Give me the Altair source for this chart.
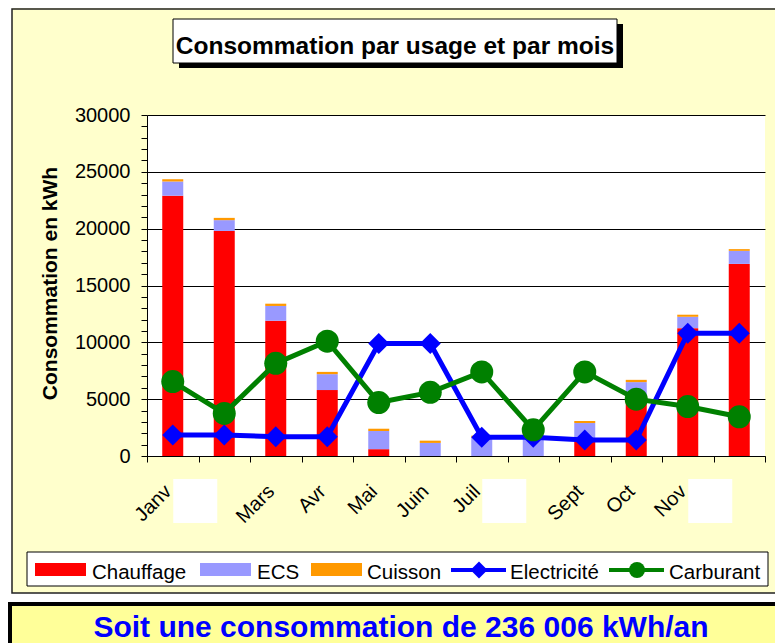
import json
import altair as alt
import pandas as pd

# ---------------- data ----------------
mois = ["Janv", "Févr", "Mars", "Avr", "Mai", "Juin", "Juil", "Août", "Sept", "Oct", "Nov", "Déc"]
usages = ["Chauffage", "ECS", "Cuisson"]
couleurs_usages = ["#FF0000", "#9999FF", "#FF9900"]
chauffage = [22900, 19800, 11900, 5800, 600, 0, 0, 0, 1400, 5350, 11250, 16900]
ecs = [1250, 950, 1300, 1400, 1600, 1150, 1600, 1900, 1500, 1150, 1000, 1150]
cuisson = [200, 200, 200, 200, 200, 200, 190, 200, 180, 200, 180, 150]
electricite = [1850, 1850, 1700, 1700, 9900, 9900, 1650, 1650, 1400, 1400, 10800, 10800]
carburant = [6550, 3750, 8150, 10100, 4700, 5600, 7400, 2300, 7400, 5000, 4350, 3450]
mois_masques = ["Févr", "Août", "Déc"]
y_major = [0, 5000, 10000, 15000, 20000, 25000, 30000]
y_minor = list(range(0, 30001, 1000))
titre = "Consommation par usage et par mois"
titre_axe = "Consommation en kWh"
bandeau = "Soit une consommation de 236 006 kWh/an"
legende = ["Chauffage", "ECS", "Cuisson", "Electricité", "Carburant"]

FONT = "Liberation Sans"
W, H = 618, 341

# ---------------- tables ----------------
rows = []
for i, (u, vals) in enumerate(zip(usages, [chauffage, ecs, cuisson])):
    for m, v in zip(mois, vals):
        rows.append({"mois": m, "usage": u, "valeur": v, "ordre": i})
df_bars = pd.DataFrame(rows)
df_elec = pd.DataFrame({"mois": mois, "valeur": electricite})
df_carb = pd.DataFrame({"mois": mois, "valeur": carburant})
df_mask = pd.DataFrame({"mois": mois_masques, "valeur": [0] * len(mois_masques)})
dummy = pd.DataFrame({"a": [0]})

# ---------------- encodings ----------------
x_axis = alt.Axis(
    title=None, labelAngle=-45, labelAlign="right", labelBaseline="middle",
    labelPadding=26, labelOffset=-5, labelFont=FONT, labelFontSize=20,
    labelColor="black", tickBand="extent", tickSize=6, tickColor="black",
    domainColor="black", domainWidth=1, grid=False, labelOverlap=False,
    labelExpr="indexof(" + json.dumps(mois_masques) + ", datum.value) >= 0 ? '' : datum.label",
)
x_enc = alt.X("mois:N", sort=mois,
              scale=alt.Scale(domain=mois, paddingInner=0, paddingOuter=0),
              axis=x_axis)

y_axis = alt.Axis(
    values=y_minor, format="d",
    labelExpr="datum.value % 5000 === 0 ? datum.label : ''",
    grid=True, gridColor="black", gridWidth=1,
    gridOpacity={"condition": {"test": "datum.value % 5000 === 0", "value": 1}, "value": 0},
    tickSize=6, tickColor="black", domainColor="black", domainWidth=1,
    labelFont=FONT, labelFontSize=20, labelColor="black", labelPadding=11,
    labelOverlap=False,
    title=titre_axe, titleFont=FONT, titleFontSize=21, titleFontWeight="bold",
    titleColor="black", titleX=-97, titleY=168, titleAngle=270,
    titleBaseline="middle", titleAlign="center",
)
y_enc = alt.Y("valeur:Q", stack="zero",
              scale=alt.Scale(domain=[0, 30000], nice=False, zero=True),
              axis=y_axis)

# ---------------- data layers ----------------
bars = alt.Chart(df_bars).mark_bar(size=21).encode(
    x=x_enc, y=y_enc,
    color=alt.Color("usage:N", scale=alt.Scale(domain=usages, range=couleurs_usages), legend=None),
    order=alt.Order("ordre:Q", sort="ascending"),
)

y_line = alt.Y("valeur:Q", scale=alt.Scale(domain=[0, 30000], nice=False, zero=True), axis=y_axis)

elec_line = alt.Chart(df_elec).mark_line(color="#0000FF", strokeWidth=5).encode(x=x_enc, y=y_line)
elec_pts = alt.Chart(df_elec).mark_point(shape="diamond", filled=True, size=441,
                                         color="#0000FF", opacity=1).encode(x=x_enc, y=y_line)
carb_line = alt.Chart(df_carb).mark_line(color="#008000", strokeWidth=5).encode(x=x_enc, y=y_line)
carb_pts = alt.Chart(df_carb).mark_point(shape="circle", filled=True, size=529,
                                         color="#008000", opacity=1).encode(x=x_enc, y=y_line)

masks = alt.Chart(df_mask).mark_bar(size=44, xOffset=-29, color="white").encode(
    x=x_enc, y=alt.value(364), y2=alt.value(408))


# ---------------- decoration helpers ----------------
def rect(x1, x2, y1, y2, **kw):
    return alt.Chart(dummy).mark_rect(**kw).encode(
        x=alt.value(x1), x2=alt.value(x2), y=alt.value(y1), y2=alt.value(y2))


def text(x, y, s, **kw):
    return alt.Chart(dummy).mark_text(font=FONT, **kw).encode(
        x=alt.value(x), y=alt.value(y), text=alt.value(s))


deco = []
deco.append(rect(-139, -135, -107, 480, color="white"))
deco.append(rect(-139, 700, 478, 530, color="white"))
deco.append(rect(-135, 700, -106, 478, fill="transparent", stroke="#222", strokeWidth=1.5))
deco.append(rect(32, 476, -91, -47, color="black"))
deco.append(rect(26, 470, -96, -52, fill="white", stroke="black", strokeWidth=1))
deco.append(text(248, -61, titre, fontSize=24.5, fontWeight="bold", color="black",
                 align="center", baseline="alphabetic"))
deco.append(rect(-120, 621, 437, 471, fill="white", stroke="black", strokeWidth=1))
sw_x = [-112, 53, 164]
tx = [-55, 110, 220, 363, 522]
for i in range(3):
    deco.append(rect(sw_x[i], sw_x[i] + 51, 448, 461, color=couleurs_usages[i]))
legend_lines = [(304, 359, 332, "#0000FF", "diamond", 289), (462, 517, 490, "#008000", "circle", 256)]
for (l1, l2, cx, col, shp, sz) in legend_lines:
    deco.append(alt.Chart(dummy).mark_rule(color=col, strokeWidth=4).encode(
        x=alt.value(l1), x2=alt.value(l2), y=alt.value(455)))
    deco.append(alt.Chart(dummy).mark_point(shape=shp, filled=True, size=sz, color=col, opacity=1).encode(
        x=alt.value(cx), y=alt.value(455)))
for i, lab in enumerate(legende):
    deco.append(text(tx[i], 464, lab, fontSize=20.5, color="black", align="left", baseline="alphabetic"))
deco.append(rect(-137, 700, 489, 560, fill="#FFFF99", stroke="black", strokeWidth=4))
deco.append(text(254, 522, bandeau, fontSize=30, fontWeight="bold", color="#0000FF",
                 align="center", baseline="alphabetic"))

chart = alt.layer(
    bars, elec_line, elec_pts, carb_line, carb_pts, masks, *deco
).properties(
    width=W, height=H,
    autosize=alt.AutoSizeParams(type="none"),
    padding={"left": 139, "top": 107, "right": 10, "bottom": 187},
    background="#FFFFCC",
).configure_view(fill="white", strokeWidth=0)

chart.save("out.html", embed_options={"renderer": "svg", "actions": False})
